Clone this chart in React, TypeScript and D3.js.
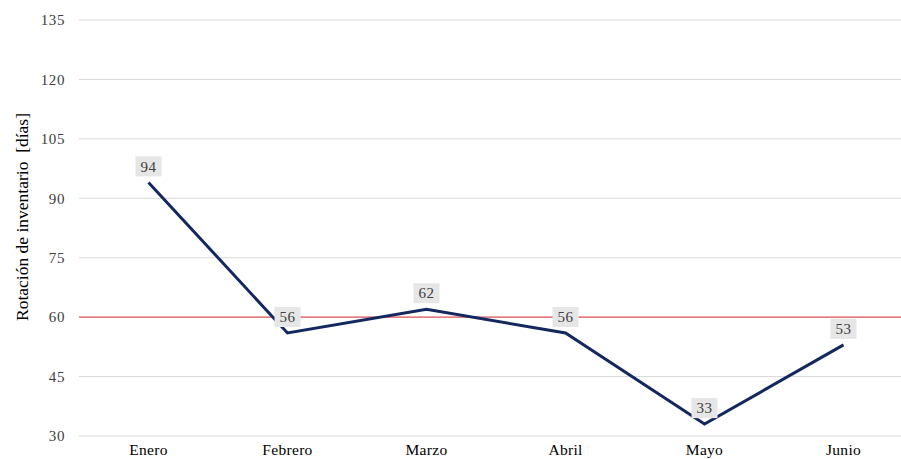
import React from "react";
import * as d3 from "d3";

const categories = ["Enero", "Febrero", "Marzo", "Abril", "Mayo", "Junio"];
const values = [94, 56, 62, 56, 33, 53];
const yTicks = [30, 45, 60, 75, 90, 105, 120, 135];
const targetValue = 60;
const yTitle = "Rotación de inventario \u00a0[días]";

const W = 901;
const H = 459;

export default function App() {
  const x = d3.scalePoint<string>().domain(categories).range([148.5, 843.5]);
  const y = d3.scaleLinear().domain([30, 135]).range([436, 20]);
  const line = d3
    .line<number>()
    .x((_, i) => x(categories[i])!)
    .y((d) => y(d));
  const font = "'Liberation Serif', 'Times New Roman', serif";
  return (
    <svg
      width={W}
      height={H}
      style={{ position: "absolute", left: 0, top: 0, background: "#fff" }}
      fontFamily={font}
    >
      {yTicks.map((t) => (
        <g key={t}>
          <line x1={79} x2={W} y1={y(t)} y2={y(t)} stroke="#d9d9d9" strokeWidth={1} />
          <text x={65} y={y(t)} dy="0.35em" textAnchor="end" fontSize={15} letterSpacing={0.6} fill="#404040">
            {t}
          </text>
        </g>
      ))}
      <line x1={79} x2={W} y1={y(targetValue)} y2={y(targetValue)} stroke="#e8575a" strokeWidth={1.3} />
      <text
        transform={`translate(22, 217) rotate(-90)`}
        textAnchor="middle"
        dy="0.35em"
        fontSize={17.5}
        fill="#000"
      >
        {yTitle}
      </text>
      {categories.map((c) => (
        <text key={c} x={x(c)} y={450} dy="0.35em" textAnchor="middle" fontSize={15.5} letterSpacing={0.3} fill="#000">
          {c}
        </text>
      ))}
      <path d={line(values)!} fill="none" stroke="#13285e" strokeWidth={3} strokeLinejoin="miter" />
      {values.map((v, i) => {
        const cx = x(categories[i])!;
        const cy = y(v) - 16;
        return (
          <g key={i}>
            <rect x={cx - 13} y={cy - 10} width={26} height={20} fill="#e6e6e6" />
            <text x={cx} y={cy} dy="0.35em" textAnchor="middle" fontSize={15} letterSpacing={0.4} fill="#404040">
              {v}
            </text>
          </g>
        );
      })}
    </svg>
  );
}
